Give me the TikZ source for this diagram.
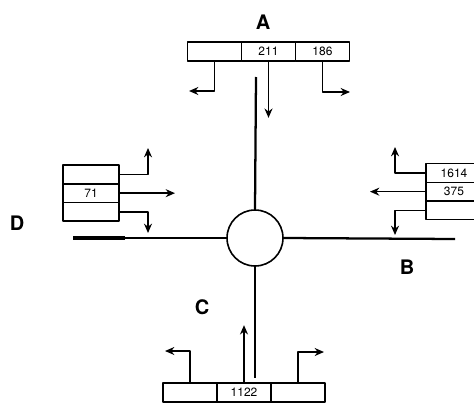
\documentclass[tikz,border=0pt]{standalone}
\usepackage{fontspec}
\setmainfont{TeX Gyre Heros}
\usetikzlibrary{positioning,arrows.meta}
\tikzset{
  cell/.style={draw, line width=1.1pt, inner sep=0pt, outer sep=0pt,
    minimum width=40.5pt, minimum height=14pt, font=\fontsize{9}{9}\selectfont},
  wcell/.style={cell, minimum width=42pt},
  road/.style={line width=1.7pt},
  flow/.style={->, line width=1.1pt},
  lbl/.style={font=\bfseries\fontsize{15}{15}\selectfont}
}
\begin{document}
\begin{tikzpicture}[x=0.75pt, y=-0.75pt, line join=round, >={Stealth[length=7pt,width=6pt]}]
 \useasboundingbox (0,0) rectangle (474,403);
 % junction and roads
 \node[draw, circle, line width=1.2pt, minimum size=42pt, inner sep=0pt] (junction) at (255,238) {};
 \coordinate (roadN) at (256,77);
 \coordinate (roadS) at (255,378);
 \coordinate (roadW) at (73,238);
 \coordinate (roadWm) at (125,238);
 \coordinate (roadE) at (455,239);
 \draw[road] (junction.north) -- (roadN);
 \draw[road] (junction.south) -- (roadS);
 \draw[road] (junction.west) -- (roadWm);
 \draw[line width=2.5pt] (roadWm) -- (roadW);
 \draw[road] (junction.east) -- (roadE);
 % labels
 \node[lbl] (labA) at (263,22) {A};
 \node[lbl] (labB) at (407,267) {B};
 \node[lbl] (labC) at (202,307) {C};
 \node[lbl] (labD) at (17,223) {D};
 % approach A
 \node[cell] (A1) at (214.5,51.5) {};
 \node[cell, right=0pt of A1] (A2) {211};
 \node[cell, right=0pt of A2] (A3) {186};
 \draw[flow] (A1.south) |- (189,91);
 \draw[flow] (A2.south) -- ++(0,57);
 \draw[flow] (A3.south) |- (350,92);
 % approach C
 \node[cell] (C1) at (190,392.5) {};
 \node[cell, right=0pt of C1] (C2) {1122};
 \node[cell, right=0pt of C2] (C3) {};
 \draw[flow] (C1.north) |- (165,351);
 \draw[flow] (C2.north) -- ++(0,-58);
 \draw[flow] (C3.north) |- (324,352);
 % approach D
 \node[wcell] (D1) at (91,174.5) {};
 \node[wcell, below=0pt of D1] (D2) {71};
 \node[wcell, below=0pt of D2] (D3) {};
 \draw[flow] (D1.east) -| (148,148);
 \draw[flow] (D2.east) -- ++(56,0);
 \draw[flow] (D3.east) -| (148,233);
 % approach B
 \node[wcell] (B1) at (454,173) {1614};
 \node[wcell, below=0pt of B1] (B2) {375};
 \node[wcell, below=0pt of B2] (B3) {};
 \draw[flow] (B1.west) -| (395,147);
 \draw[flow] (B2.west) -- ++(-56,0);
 \draw[flow] (B3.west) -| (395,235);
\end{tikzpicture}
\end{document}
